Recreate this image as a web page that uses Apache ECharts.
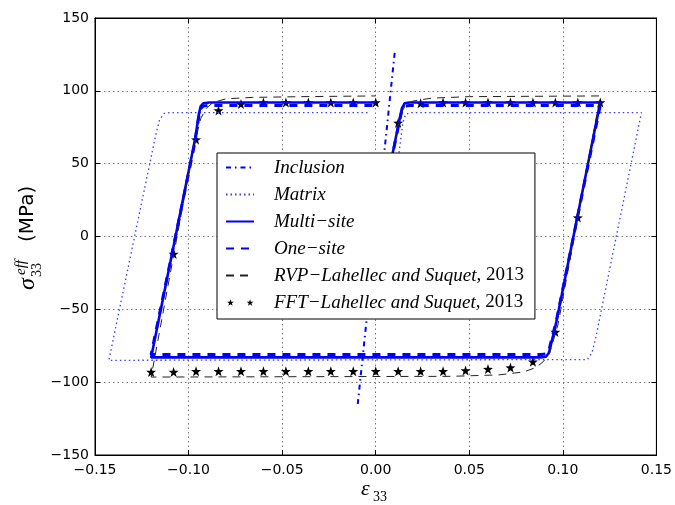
<!DOCTYPE html>
<html>
<head>
<meta charset="utf-8">
<script src="https://cdn.jsdelivr.net/npm/echarts@6/dist/echarts.min.js"></script>
<style>
  html, body { margin: 0; padding: 0; background: #fff; }
  #chart { width: 675px; height: 505px; }
</style>
</head>
<body>
<div id="chart"></div>
<script>
// values: strain (eps_33) and stress (MPa)
const inclusionStrain = [-0.0096, -0.0055, 0.0, 0.0046, 0.0103];
const inclusionStress = [-115, -65, 2, 58, 128];

const matrixStrain = [0.0035, 0.0125, 0.0145, 0.016, 0.019, 0.142, 0.1175, 0.1155, 0.113, -0.1426, -0.1175, -0.1155, -0.113, -0.11, -0.003];
const matrixStress = [0, 58, 78, 84, 85, 85, -70, -80, -84.5, -85, 70, 80, 84.5, 85, 85];

const multiStrain = [0, 0.0125, 0.014, 0.0155, 0.018, 0.12, 0.0963, 0.0935, 0.0925, 0.091, 0.088, -0.12, -0.0965, -0.0945, -0.0935, -0.092, -0.089, 0];
const multiStress = [0, 79, 88, 91.5, 92, 92, -60, -75, -80, -82.5, -83, -83, 67, 84, 89.5, 91.5, 92, 92];

const oneStrain = [0, 0.0125, 0.014, 0.0155, 0.018, 0.12, 0.0965, 0.0937, 0.0927, 0.0912, 0.0885, -0.12, -0.0967, -0.0947, -0.0937, -0.0922, -0.0892, 0];
const oneStress = [0, 78, 86.5, 89.5, 90, 90, -58, -72, -77.5, -80.5, -81, -81, 64, 81, 87.5, 89.5, 90, 90];

const rvpStrain = [0, 0.0125, 0.0138, 0.016, 0.02, 0.03, 0.05, 0.12, 0.0975, 0.093, 0.0895, 0.0855, 0.079, 0.066, 0.04, -0.12, -0.0975, -0.0935, -0.0905, -0.087, -0.08, -0.066, -0.04, 0];
const rvpStress = [0, 79, 85, 90.5, 93, 95, 96, 96.5, -60, -80, -86, -90, -93, -95, -96, -96.5, 60, 81, 88, 92, 94.5, 95.5, 96, 96.5];

const fftStrain = [0, 0.012, 0.024, 0.036, 0.048, 0.060, 0.072, 0.084, 0.096, 0.108, 0.120,
  0.108, 0.096, 0.084, 0.072, 0.060, 0.048, 0.036, 0.024, 0.012, 0, -0.012, -0.024, -0.036, -0.048, -0.060, -0.072, -0.084, -0.096, -0.108, -0.120,
  -0.108, -0.096, -0.084, -0.072, -0.060, -0.048, -0.036, -0.024, -0.012, 0];
const fftStress = [0, 78, 91.5, 92, 92, 92, 92, 92, 92, 92, 92,
  13, -65.5, -86, -90, -91, -92, -92.5, -92.5, -92.5, -92.5, -92.5, -92.5, -92.5, -92.5, -92.5, -92.5, -92.5, -92.5, -93, -93,
  -12, 66.5, 86.5, 91, 92, 92, 92, 92, 92, 92];

const names = ['Inclusion', 'Matrix', 'Multi\u2212site', 'One\u2212site',
  'RVP\u2212Lahellec and Suquet, 2013', 'FFT\u2212Lahellec and Suquet, 2013'];

const xTicks = { min: -0.15, max: 0.15, step: 0.05 };
const yTicks = { min: -150, max: 150, step: 50 };

function zip(xs, ys) {
  return xs.map((x, i) => [x, ys[i]]);
}

function minus(s) {
  return s.replace('-', '\u2212');
}

const star = 'path://M0,-10 L2.35,-3.24 L9.51,-3.09 L3.8,1.24 L5.88,8.09 L0,4 L-5.88,8.09 L-3.8,1.24 L-9.51,-3.09 L-2.35,-3.24 Z';
// two small stars for the legend, the tiny corner triangles only fix the box to 2:1
const twoStars = 'path://M0,0 L0.1,0 L0,0.1 Z M100,50 L99.9,50 L100,49.9 Z ' +
  'M16,13 L18.94,21.95 L28.36,21.98 L20.76,27.55 L23.64,36.52 L16,31 L8.36,36.52 L11.24,27.55 L3.64,21.98 L13.06,21.95 Z ' +
  'M86,13 L88.94,21.95 L98.36,21.98 L90.76,27.55 L93.64,36.52 L86,31 L78.36,36.52 L81.24,27.55 L73.64,21.98 L83.06,21.95 Z';
const gridLine = { show: true, lineStyle: { color: '#777', width: 1, type: [1.5, 3] } };
const tickFont = { color: '#000', fontSize: 14, fontFamily: 'DejaVu Sans' };
const blk = { onZero: false, lineStyle: { color: '#000', width: 1 } };
const tick = { inside: true, length: 5, lineStyle: { color: '#000' } };

function lineSeries(name, data, color, width, type) {
  return {
    name: name, type: 'line', data: data, symbol: 'none', smooth: false,
    lineStyle: { color: color, width: width, type: type },
    itemStyle: { color: color }
  };
}

const chart = echarts.init(document.getElementById('chart'));
chart.setOption({
  animation: false,
  backgroundColor: '#fff',
  grid: { left: 95, right: 17, top: 18, bottom: 50, show: true, borderColor: '#000', borderWidth: 1 },
  xAxis: [
    {
      type: 'value', min: xTicks.min, max: xTicks.max, interval: xTicks.step,
      axisLine: blk, axisTick: tick,
      axisLabel: Object.assign({ margin: 8, formatter: v => minus(v.toFixed(2)) }, tickFont),
      splitLine: gridLine
    },
    {
      type: 'value', position: 'top', min: xTicks.min, max: xTicks.max, interval: xTicks.step,
      axisLine: blk, axisTick: tick, axisLabel: { show: false }, splitLine: { show: false }
    }
  ],
  yAxis: [
    {
      type: 'value', min: yTicks.min, max: yTicks.max, interval: yTicks.step,
      axisLine: blk, axisTick: tick,
      axisLabel: Object.assign({ margin: 6, formatter: v => minus(String(v)) }, tickFont),
      splitLine: gridLine
    },
    {
      type: 'value', position: 'right', min: yTicks.min, max: yTicks.max, interval: yTicks.step,
      axisLine: blk, axisTick: tick, axisLabel: { show: false }, splitLine: { show: false }
    }
  ],
  legend: {
    orient: 'vertical', left: 217, top: 153,
    padding: [5, 11, 7, 8], itemGap: 8, itemWidth: 28, itemHeight: 14,
    backgroundColor: '#fff', borderColor: '#000', borderWidth: 1,
    itemStyle: { opacity: 0 },
    data: names.slice(0, 5).concat([{ name: names[5], icon: twoStars, itemStyle: { opacity: 1 } }]),
    formatter: n => {
      const k = n.indexOf(', 2013');
      return k < 0 ? '{i|' + n + '}' : '{i|' + n.slice(0, k) + '}{r|, 2013}';
    },
    textStyle: {
      padding: [0, 0, 0, 15],
      rich: {
        i: { fontFamily: 'Liberation Serif', fontStyle: 'italic', fontSize: 19, color: '#000', lineHeight: 20 },
        r: { fontFamily: 'Liberation Serif', fontSize: 19, color: '#000', lineHeight: 20 }
      }
    }
  },
  series: [
    lineSeries(names[0], zip(inclusionStrain, inclusionStress), '#0000ff', 2, [5, 4, 1.5, 4]),
    lineSeries(names[1], zip(matrixStrain, matrixStress), '#3a3aff', 1.3, [1.5, 3]),
    lineSeries(names[2], zip(multiStrain, multiStress), '#0000ff', 2.6, 'solid'),
    lineSeries(names[3], zip(oneStrain, oneStress), '#0000ff', 3, [8, 7]),
    lineSeries(names[4], zip(rvpStrain, rvpStress), '#222', 1, [8, 6]),
    {
      name: names[5], type: 'scatter', data: zip(fftStrain, fftStress),
      symbol: star, symbolSize: 10, itemStyle: { color: '#000', opacity: 1 }
    }
  ],
  graphic: [
    {
      type: 'group', x: 28, y: 292, rotation: Math.PI / 2,
      children: [
        { type: 'text', x: 2, y: 0, style: { text: '\u03c3', fontFamily: 'Liberation Serif', fontStyle: 'italic', fontSize: 24, fill: '#000', verticalAlign: 'middle' } },
        { type: 'text', x: 17, y: -7, style: { text: 'eff', fontFamily: 'Liberation Serif', fontStyle: 'italic', fontSize: 15, fill: '#000', verticalAlign: 'middle' } },
        { type: 'text', x: 15, y: 9, style: { text: '33', fontFamily: 'Liberation Serif', fontSize: 14, fill: '#000', verticalAlign: 'middle' } },
        { type: 'text', x: 50, y: 0, style: { text: '(MPa)', fontFamily: 'DejaVu Sans', fontSize: 20, fill: '#000', verticalAlign: 'middle' } }
      ]
    },
    { type: 'text', x: 361, y: 489, style: { text: '\u03b5', fontFamily: 'Liberation Serif', fontStyle: 'italic', fontSize: 22, fill: '#000', verticalAlign: 'middle' } },
    { type: 'text', x: 373, y: 497, style: { text: '33', fontFamily: 'Liberation Serif', fontSize: 14, fill: '#000', verticalAlign: 'middle' } }
  ]
});
</script>
</body>
</html>
